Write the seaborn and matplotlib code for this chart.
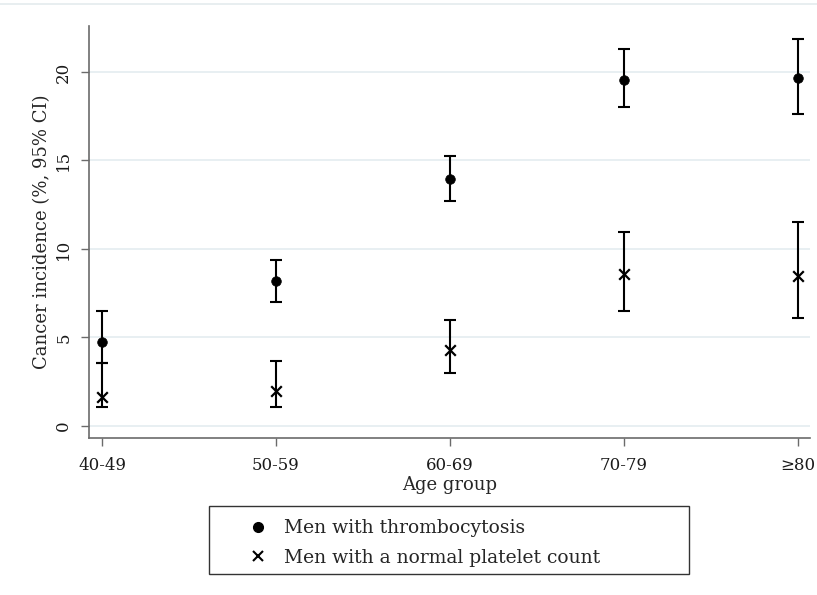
import numpy as np
import pandas as pd
import matplotlib
matplotlib.use("Agg")
import matplotlib.pyplot as plt
from matplotlib.patches import Rectangle
from matplotlib.lines import Line2D
import seaborn as sns

# Age groups and cancer incidence (%) with 95% confidence limits
age_groups = ["40-49", "50-59", "60-69", "70-79", "\u226580"]

thrombo_est = [4.75, 8.2, 13.95, 19.55, 19.65]
thrombo_lo = [3.55, 7.0, 12.7, 18.0, 17.6]
thrombo_hi = [6.5, 9.4, 15.25, 21.3, 21.85]

normal_est = [1.65, 1.98, 4.3, 8.57, 8.47]
normal_lo = [1.07, 1.09, 3.0, 6.5, 6.08]
normal_hi = [3.56, 3.69, 5.99, 10.98, 11.54]

series_names = ["Men with thrombocytosis", "Men with a normal platelet count"]

sns.set_theme(style="white")
plt.rcParams["font.family"] = ["DejaVu Serif"]

pos = np.arange(len(age_groups))
df = pd.DataFrame({
    "pos": np.concatenate([pos, pos]),
    "est": thrombo_est + normal_est,
    "lo": thrombo_lo + normal_lo,
    "hi": thrombo_hi + normal_hi,
    "group": [series_names[0]] * len(pos) + [series_names[1]] * len(pos),
})

fig = plt.figure(figsize=(8.17, 5.95), dpi=100)
ax = fig.add_axes([0.1089, 0.2639, 0.8825, 0.6924])

grid_col = "#e6eef1"
for v in [0, 5, 10, 15, 20]:
    ax.axhline(v, color=grid_col, lw=1.3, zorder=0)

# confidence intervals
for _, r in df.iterrows():
    ax.errorbar(r["pos"], r["est"],
                yerr=[[r["est"] - r["lo"]], [r["hi"] - r["est"]]],
                fmt="none", ecolor="black", elinewidth=1.5,
                capsize=4.2, capthick=1.5, zorder=2)

# point estimates
sns.scatterplot(data=df[df["group"] == series_names[0]], x="pos", y="est",
                marker="o", color="black", s=48, edgecolor="black",
                linewidth=0.5, legend=False, ax=ax, zorder=3)
sns.scatterplot(data=df[df["group"] == series_names[1]], x="pos", y="est",
                marker="x", color="black", s=58, linewidth=1.6,
                legend=False, ax=ax, zorder=3)

ax.set_xlim(-0.075, 4.07)
ax.set_ylim(-0.68, 22.6)
ax.set_xticks(pos)
ax.set_xticklabels(age_groups)
ax.set_yticks([0, 5, 10, 15, 20])
ax.set_yticklabels(["0", "5", "10", "15", "20"], rotation=90, va="center")

ax.set_xlabel("Age group", fontsize=13, labelpad=1)
ax.set_ylabel("Cancer incidence (%, 95% CI)", fontsize=13, labelpad=3)

for side in ["top", "right"]:
    ax.spines[side].set_visible(False)
for side in ["left", "bottom"]:
    ax.spines[side].set_color("#6b6b6b")
    ax.spines[side].set_linewidth(1.2)

ax.tick_params(axis="both", which="both", direction="out", length=6,
               width=1.0, color="#6b6b6b", labelsize=12, labelcolor="#1a1a1a")
ax.tick_params(axis="x", pad=8, bottom=True)
ax.tick_params(axis="y", pad=6, left=True)

# faint frame line across the top of the graph region
fig.add_artist(Line2D([0.0, 1.0], [1 - 4 / 595, 1 - 4 / 595],
                      transform=fig.transFigure, color="#e4ebee", lw=1.2))

# legend box below the plot
fig.add_artist(Rectangle((209 / 817, 1 - 574 / 595), 480 / 817, 68 / 595,
                         transform=fig.transFigure, fill=False,
                         edgecolor="#333333", lw=1.0))
handles = [
    Line2D([], [], ls="none", marker="o", color="black", markersize=7),
    Line2D([], [], ls="none", marker="x", color="black", markersize=7.5,
           markeredgewidth=1.5),
]
fig.legend(handles, series_names, loc="center left",
           bbox_to_anchor=(247 / 817, 1 - 543 / 595), frameon=False,
           fontsize=13.5, handlelength=1.2, handletextpad=0.8,
           labelspacing=0.6, borderpad=0, borderaxespad=0)

fig.savefig("out.png", dpi=100, facecolor="white")
